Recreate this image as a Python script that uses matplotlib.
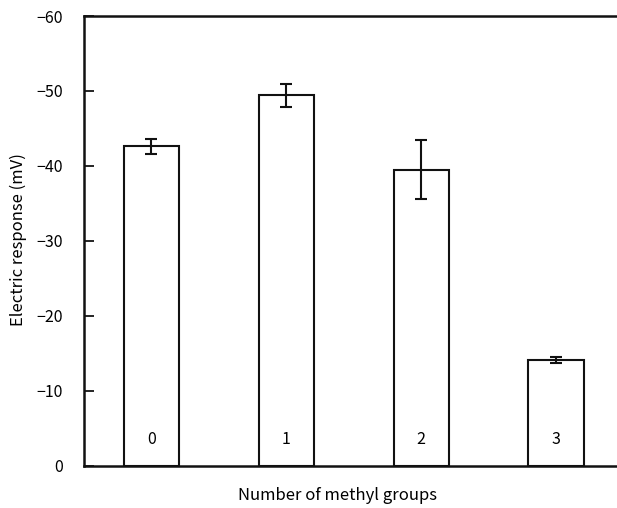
import matplotlib
matplotlib.use("Agg")
import matplotlib.pyplot as plt
import numpy as np

plt.rcParams['font.family'] = ['Noto Sans CJK JP', 'DejaVu Sans']

groups = ['0', '1', '2', '3']
response = [-42.6, -49.4, -39.5, -14.1]
sem = [1.05, 1.5, 3.9, 0.4]
yticks = [0, -10, -20, -30, -40, -50, -60]

fig = plt.figure(figsize=(6.17, 5.08), dpi=100)
ax = fig.add_axes([0.1361, 0.0827, 0.8744, 0.8858])

x = np.arange(len(groups))
ax.bar(x, response, width=0.41, color='white', edgecolor='#111111', linewidth=1.5,
       yerr=sem, capsize=4, error_kw=dict(elinewidth=1.5, capthick=1.5, ecolor='#111111'),
       zorder=2)

for xi, g in zip(x, groups):
    ax.text(xi, -3.5, g, ha='center', va='center', fontsize=11.5)

ax.set_xlim(-0.5, 3.5)
ax.set_ylim(0, -60)
ax.set_yticks(yticks)
ax.set_yticklabels([f'\u2212{abs(v)}' if v else '0' for v in yticks], fontsize=11.5)
ax.set_xticks([])

ax.tick_params(axis='y', direction='in', length=7, width=1.2, pad=15)
ax.spines['right'].set_visible(False)
for s in ['left', 'top', 'bottom']:
    ax.spines[s].set_linewidth(1.8)
    ax.spines[s].set_color('#111111')

fig.text(18 / 617, 1 - 240 / 508, 'Electric response (mV)', rotation=90,
         ha='center', va='center', fontsize=12)
fig.text(337 / 617, 1 - 496 / 508, 'Number of methyl groups', ha='center', va='center', fontsize=12)

fig.savefig('out.png', dpi=100)
